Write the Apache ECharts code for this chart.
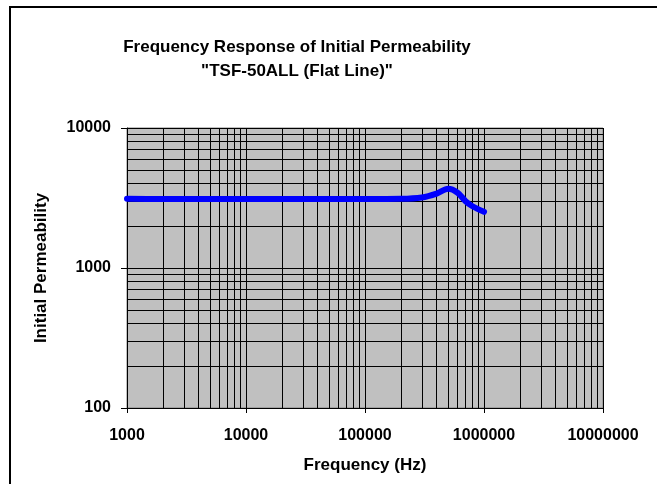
<!DOCTYPE html>
<html>
<head>
<meta charset="utf-8">
<script src="https://cdn.jsdelivr.net/npm/echarts@6/dist/echarts.min.js"></script>
<style>
  html, body { margin: 0; padding: 0; background: #fff; }
  #chart { width: 657px; height: 484px; }
</style>
</head>
<body>
<div id="chart"></div>
<script>
// data
var freq = [1000, 2000, 5000, 10000, 20000, 50000, 100000, 200000, 300000, 400000, 500000, 600000, 700000, 800000, 1000000];
var perm = [3120, 3115, 3110, 3110, 3110, 3110, 3110, 3120, 3190, 3400, 3680, 3450, 3000, 2760, 2520];

// minor grid values (2..9 of each decade)
var xMinor = [];
[1000, 10000, 100000, 1000000].forEach(function (d) {
  for (var k = 2; k <= 9; k++) xMinor.push(d * k);
});
var yMinor = [];
[100, 1000].forEach(function (d) {
  for (var k = 2; k <= 9; k++) yMinor.push(d * k);
});

var chart = echarts.init(document.getElementById("chart"));
var font = "'Liberation Sans', Arial, sans-serif";

var minorLines = xMinor.map(function (v) { return { xAxis: v }; })
  .concat(yMinor.map(function (v) { return { yAxis: v }; }));

chart.setOption({
  animation: false,
  title: {
    text: 'Frequency Response of Initial Permeability\n"TSF-50ALL (Flat Line)"',
    left: 292,
    top: 30,
    textAlign: "center",
    textStyle: {
      fontFamily: font,
      fontSize: 17,
      fontWeight: "bold",
      color: "#000",
      lineHeight: 24,
    },
  },
  graphic: [
    {
      type: "rect",
      shape: { x: 10, y: 7, width: 700, height: 600 },
      style: { fill: null, stroke: "#000", lineWidth: 2 },
      silent: true,
    },
  ],
  grid: {
    left: 127,
    right: 54,
    top: 128,
    bottom: 76,
    show: true,
    backgroundColor: "#c0c0c0",
    borderColor: "#808080",
    borderWidth: 1,
  },
  xAxis: {
    type: "log",
    logBase: 10,
    min: 1000,
    max: 10000000,
    name: "Frequency (Hz)",
    nameLocation: "middle",
    nameGap: 49,
    nameTextStyle: { fontFamily: font, fontSize: 17, fontWeight: "bold", color: "#000" },
    axisLine: { show: true, lineStyle: { color: "#000", width: 1 } },
    axisTick: { show: true, inside: false, length: 5, lineStyle: { color: "#000" } },
    axisLabel: {
      margin: 20,
      fontFamily: font,
      fontSize: 16,
      fontWeight: "bold",
      color: "#000",
      formatter: function (v) { return String(Math.round(v)); },
    },
    splitLine: { show: true, lineStyle: { color: "#000", width: 1 } },
  },
  yAxis: {
    type: "log",
    logBase: 10,
    min: 100,
    max: 10000,
    name: "Initial Permeability",
    nameLocation: "middle",
    nameGap: 77,
    nameTextStyle: { fontFamily: font, fontSize: 17, fontWeight: "bold", color: "#000" },
    axisLine: { show: true, lineStyle: { color: "#000", width: 1 } },
    axisTick: { show: true, inside: false, length: 6, lineStyle: { color: "#000" } },
    axisLabel: {
      margin: 16,
      fontFamily: font,
      fontSize: 16,
      fontWeight: "bold",
      color: "#000",
      formatter: function (v) { return String(Math.round(v)); },
    },
    splitLine: { show: true, lineStyle: { color: "#000", width: 1 } },
  },
  series: [
    {
      type: "line",
      data: freq.map(function (f, i) { return [f, perm[i]]; }),
      smooth: 0.3,
      showSymbol: false,
      lineStyle: { color: "#0000ff", width: 6, cap: "round" },
      itemStyle: { color: "#0000ff" },
      z: 5,
      markLine: {
        silent: true,
        symbol: "none",
        label: { show: false },
        lineStyle: { color: "#000", width: 1, type: "solid" },
        data: minorLines,
        z: 1,
      },
    },
  ],
});
</script>
</body>
</html>
